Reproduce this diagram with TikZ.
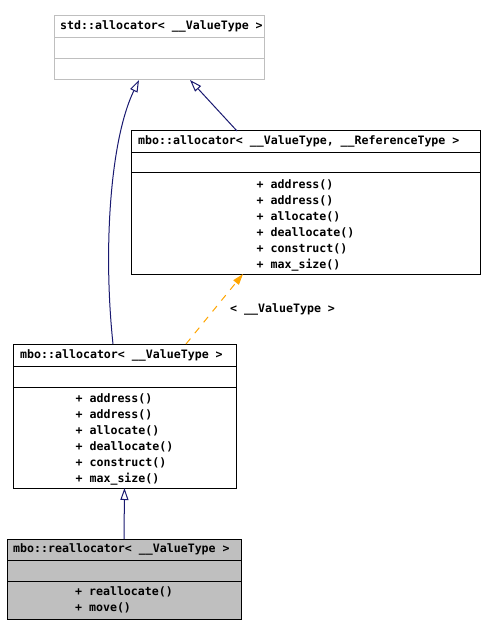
\documentclass[tikz,border=0pt]{standalone}
\usepackage{fontspec}
\usetikzlibrary{arrows.meta}
\newfontfamily\dxfont{DejaVu Sans Mono}
\definecolor{dxnavy}{HTML}{191970}
\definecolor{dxorange}{HTML}{FFA500}
\definecolor{dxgray}{HTML}{BFBFBF}
\tikzset{classbox/.style={draw, rectangle, inner sep=0pt, outer sep=0pt, anchor=north west, line width=1pt}}
\tikzset{classname/.style={inner sep=0pt, anchor=west, font=\dxfont\bfseries\fontsize{11.6}{16}\selectfont}}
\tikzset{members/.style={inner sep=0pt, anchor=north, align=left, font=\dxfont\bfseries\fontsize{11.6}{16}\selectfont}}
\tikzset{inherit/.style={draw=dxnavy, line width=1pt, -{Triangle[open, length=12pt, width=8pt]}}}
\tikzset{tmplinst/.style={draw=dxorange, line width=1pt, dash pattern=on 7pt off 7pt, -{Triangle[length=11pt, width=7pt, fill=dxorange]}}}

\begin{document}
\begin{tikzpicture}[x=1pt, y=-1pt]
		\useasboundingbox (0,0) rectangle (485,636);
		% std::allocator
		\node[classbox, draw=dxgray, minimum width=210pt, minimum height=64pt] (stdalloc) at (54,16) {};
		\draw[dxgray, line width=1pt] ([yshift=-22pt]stdalloc.north west) -- ([yshift=-22pt]stdalloc.north east);
		\draw[dxgray, line width=1pt] ([yshift=-43pt]stdalloc.north west) -- ([yshift=-43pt]stdalloc.north east);
		\node[classname] (stdname) at (60,26) {std::allocator< \_\_ValueType >};
		% mbo::allocator with two parameters
		\node[classbox, minimum width=349pt, minimum height=143pt] (refalloc) at (131,131) {};
		\draw[line width=1pt] ([yshift=-22pt]refalloc.north west) -- ([yshift=-22pt]refalloc.north east);
		\draw[line width=1pt] ([yshift=-42pt]refalloc.north west) -- ([yshift=-42pt]refalloc.north east);
		\node[classname] (refname) at (138,141) {mbo::allocator< \_\_ValueType, \_\_ReferenceType >};
		\node[members] (refops) at (305.5,179.3) {+ address()\\+ address()\\+ allocate()\\+ deallocate()\\+ construct()\\+ max\_size()};
		% mbo::allocator with one parameter
		\node[classbox, minimum width=223pt, minimum height=144pt] (vtalloc) at (13,344) {};
		\draw[line width=1pt] ([yshift=-22pt]vtalloc.north west) -- ([yshift=-22pt]vtalloc.north east);
		\draw[line width=1pt] ([yshift=-43pt]vtalloc.north west) -- ([yshift=-43pt]vtalloc.north east);
		\node[classname] (vtname) at (20,355) {mbo::allocator< \_\_ValueType >};
		\node[members] (vtops) at (124.5,393.3) {+ address()\\+ address()\\+ allocate()\\+ deallocate()\\+ construct()\\+ max\_size()};
		% mbo::reallocator
		\node[classbox, fill=dxgray, minimum width=234pt, minimum height=80pt] (realloc) at (7,539) {};
		\draw[line width=1pt] ([yshift=-21pt]realloc.north west) -- ([yshift=-21pt]realloc.north east);
		\draw[line width=1pt] ([yshift=-42pt]realloc.north west) -- ([yshift=-42pt]realloc.north east);
		\node[classname] (reallocname) at (13,549) {mbo::reallocator< \_\_ValueType >};
		\node[members] (reallocops) at (124,586) {+ reallocate()\\+ move()};
		% relations
		\draw[inherit] ([xshift=-11.5pt]vtalloc.north) .. controls (103,250) and (110,140) .. ([xshift=-20pt]stdalloc.south);
		\draw[inherit] ([xshift=-68.5pt]refalloc.north) -- ([xshift=31pt]stdalloc.south);
		\draw[tmplinst] ([xshift=61.5pt]vtalloc.north) -- ([xshift=-62.5pt]refalloc.south);
		\node[classname] (vtlabel) at (230,309) {< \_\_ValueType >};
		\draw[inherit] (realloc.north) -- (vtalloc.south);
		\end{tikzpicture}
\end{document}
